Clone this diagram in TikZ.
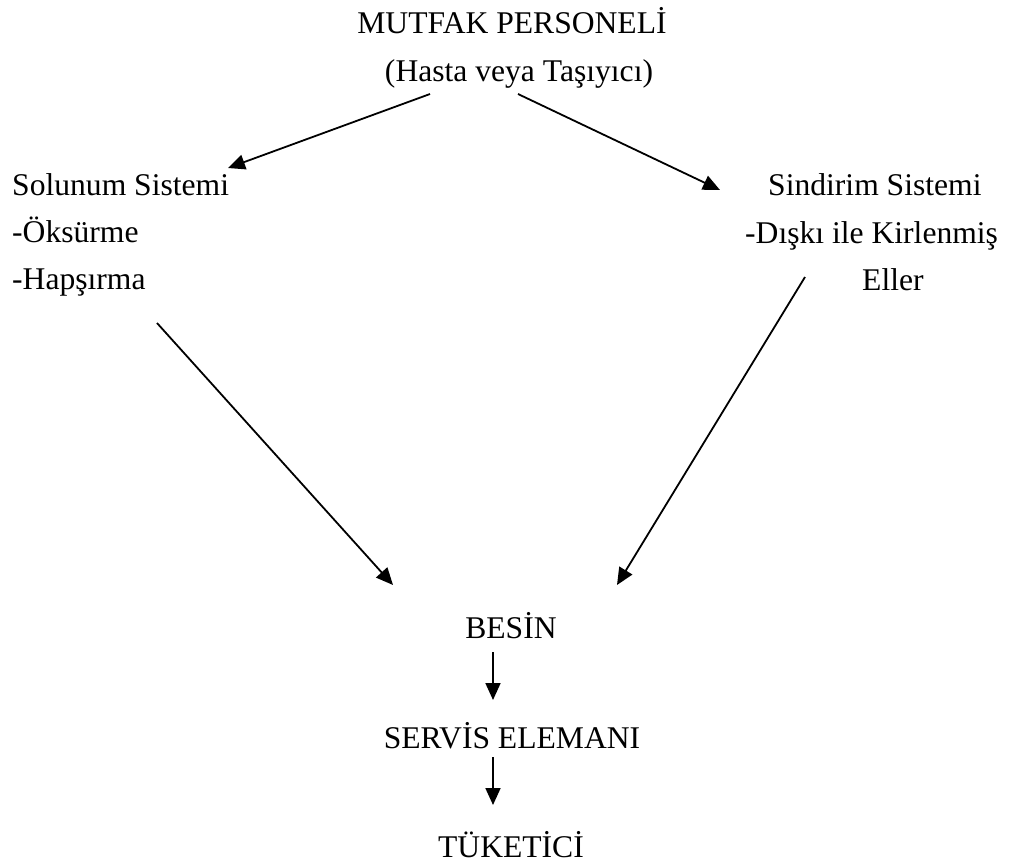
\documentclass[tikz,border=0pt]{standalone}
\usepackage{fontspec}
\setmainfont{Liberation Serif}
\usetikzlibrary{arrows.meta}
\begin{document}
\begin{tikzpicture}[x=1pt,y=-1pt,
  txt/.style={inner sep=0pt,font=\fontsize{31.6}{38}\selectfont},
  arr/.style={line width=1.8pt,-{Triangle[length=17pt,width=15pt]}}]
\useasboundingbox (0,0) rectangle (1013,863);
\node[txt,anchor=base] (mutfak) at (512,33) {MUTFAK PERSONELİ};
\node[txt,anchor=base] (hasta) at (519,81) {(Hasta veya Taşıyıcı)};
\node[txt,anchor=base west] (solunum) at (12,195) {Solunum Sistemi};
\node[txt,anchor=base west] (oksurme) at (12,242) {-Öksürme};
\node[txt,anchor=base west] (hapsirma) at (12,289) {-Hapşırma};
\node[txt,anchor=base west] (sindirim) at (768,195) {Sindirim Sistemi};
\node[txt,anchor=base west] (diski) at (745,243) {-Dışkı ile Kirlenmiş};
\node[txt,anchor=base west] (eller) at (862,290) {Eller};
\node[txt,anchor=base] (besin) at (511,638) {BESİN};
\node[txt,anchor=base] (servis) at (512,748) {SERVİS ELEMANI};
\node[txt,anchor=base] (tuketici) at (511,857) {TÜKETİCİ};
\draw[arr] ([shift={(-89,13)}]hasta.base) -- ([shift={(216,-27)}]solunum.base west);
\draw[arr] ([shift={(-1,13)}]hasta.base) -- ([shift={(-48,-5)}]sindirim.base west);
\draw[arr] ([shift={(145,34)}]hapsirma.base west) -- ([shift={(-118,-53)}]besin.base);
\draw[arr] ([shift={(-57,-13)}]eller.base west) -- ([shift={(106,-53)}]besin.base);
\draw[arr] ([shift={(-18,14)}]besin.base) -- ([shift={(-19,-48)}]servis.base);
\draw[arr] ([shift={(-19,9)}]servis.base) -- ([shift={(-18,-52)}]tuketici.base);
\end{tikzpicture}
\end{document}
